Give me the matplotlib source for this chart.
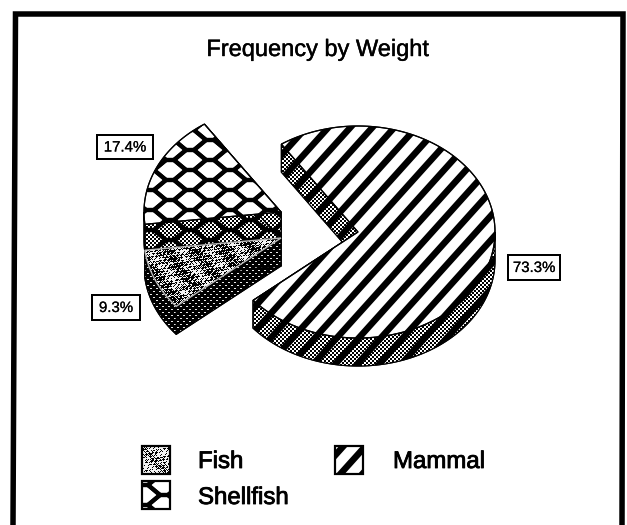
import numpy as np
import matplotlib
matplotlib.use("Agg")
import matplotlib.pyplot as plt
import matplotlib.patheffects as pe
from matplotlib.patches import Polygon, Rectangle
from matplotlib.collections import LineCollection

title = "Frequency by Weight"
categories = ["Fish", "Mammal", "Shellfish"]
shares = [9.3, 73.3, 17.4]

W, H = 627, 525
PX = 0.72
plt.rcParams['font.family'] = ['Liberation Sans', 'DejaVu Sans']
fig = plt.figure(figsize=(W/100, H/100), dpi=100)
ax = fig.add_axes([0, 0, 1, 1])

yy, xx = np.mgrid[0:H, 0:W]
checker = ((xx//2 + yy//2) % 2).astype(float)
dots = ((((xx + yy) % 6) < 2) & (((xx - yy) % 6) < 2)).astype(float)*0.9
m = (np.sin(xx*1.7 + 3*np.sin(yy*0.9)) + np.sin(yy*2.3 + xx*0.37)
     + np.sin((xx+yy)*0.77 + 2*np.sin(xx*0.53)) + 0.8*np.sin(xx*0.21 - yy*0.17))
fine = ((xx + yy) % 2) == 0
mottle = ((m > 0.9) | (fine & (m > -0.6))).astype(float)*0.95
mottle_key = ((m > 0.2) | (fine & (m > -1.5))).astype(float)*0.95

z = [1]
def tex(arr, patch):
    z[0] += 1
    im = ax.imshow(arr, extent=(0, W, H, 0), cmap='gray', vmin=0, vmax=1,
                   interpolation='nearest', aspect='auto', zorder=z[0])
    im.set_clip_path(patch)

def base(pts, fc='white', lw=1.2):
    z[0] += 1
    p = Polygon(pts, closed=True, fc=fc, ec='black', lw=lw*PX, zorder=z[0])
    ax.add_patch(p)
    return p

def outline(pts, lw=1.2, color='black'):
    z[0] += 1
    ax.add_patch(Polygon(pts, closed=True, fc='none', ec=color, lw=lw*PX, zorder=z[0]))

def stripes(patch, phase=17.0, lw=6.5, slope=48, spacing=22.0):
    z[0] += 1
    dy = np.tan(np.radians(slope))*800
    segs = [[(x0-800, 300+dy), (x0+800, 300-dy)] for x0 in np.arange(-900, 1500, spacing)+phase]
    lc = LineCollection(segs, colors='black', linewidths=lw*PX, zorder=z[0])
    ax.add_collection(lc)
    lc.set_clip_path(patch)

def honey(patch, ox=190, oy=160, lw=4.2):
    z[0] += 1
    segs = []
    for k in range(-12, 30):
        cx = ox + 20*k
        for j in range(-12, 30):
            cy = oy + 20*j + 10*(k % 2)
            v = [(cx-4, cy-10), (cx+4, cy-10), (cx+16, cy), (cx+4, cy+10), (cx-4, cy+10), (cx-16, cy), (cx-4, cy-10)]
            segs += [[v[i], v[i+1]] for i in range(6)]
    lc = LineCollection(segs, colors='black', linewidths=lw*PX, zorder=z[0], capstyle='round')
    ax.add_collection(lc)
    lc.set_clip_path(patch)

A, B, DEPTH = 137, 106, 28
START = 236.0

def rim(c, t0, t1):
    t = np.radians(np.linspace(t0, t1, max(int(abs(t1-t0)), 2)+1))
    return np.c_[c[0] + A*np.cos(t), c[1] + B*np.sin(t)]

def top_pts(c, t0, t1):
    return np.vstack([[c], rim(c, t0, t1)])

def side_list(c, t0, t1):
    polys = []
    for t in (t0, t1):
        r = rim(c, t, t)[0]
        polys.append(np.array([c, r, r+[0, DEPTH], np.array(c)+[0, DEPTH]]))
    for s in np.arange(-360, 1080, 360):
        a, b = max(t0, s), min(t1, s+180)
        if b > a:
            r = rim(c, a, b)
            polys.append(np.vstack([r, (r+[0, DEPTH])[::-1]]))
    return polys

order = {c: s for c, s in zip(categories, shares)}
t_m0 = START
t_m1 = t_m0 + order["Mammal"]*3.6
t_f1 = t_m1 + order["Fish"]*3.6
t_s1 = t_f1 + order["Shellfish"]*3.6

C_M, C_F, C_S = (358, 232), (281, 238), (281, 212)

# Shellfish
for poly in side_list(C_S, t_f1-360, t_s1-360):
    p = base(poly); tex(checker, p); honey(p); outline(poly)
p = base(top_pts(C_S, t_f1-360, t_s1-360)); honey(p); outline(top_pts(C_S, t_f1-360, t_s1-360))

# Fish
for poly in side_list(C_F, t_m1-360, t_f1-360):
    p = base(poly, fc='black'); tex(dots, p); outline(poly)
p = base(top_pts(C_F, t_m1-360, t_f1-360)); tex(mottle, p)
outline(top_pts(C_F, t_m1-360, t_f1-360), lw=1.4, color='#bbbbbb')

# Mammal
for poly in side_list(C_M, t_m0, t_m1):
    p = base(poly); tex(checker, p); stripes(p); outline(poly)
p = base(top_pts(C_M, t_m0, t_m1)); stripes(p); outline(top_pts(C_M, t_m0, t_m1))

# Data labels
stroke = [pe.withStroke(linewidth=0.15, foreground='black')]
boxes = {"Shellfish": (97, 135, 56, 24), "Fish": (92, 295, 48, 25), "Mammal": (508, 255, 52, 25)}
z[0] += 1
for c, v in zip(categories, shares):
    x, y, w, h = boxes[c]
    ax.add_patch(Rectangle((x, y), w, h, fc='white', ec='black', lw=2*PX, zorder=z[0]))
    ax.text(x+w/2, y+h/2+0.5, f"{v}%", ha='center', va='center', fontsize=15*PX, color='black',
            zorder=z[0]+1, path_effects=stroke)

# Legend
legend_pos = {"Fish": (142, 446, 198, 462), "Mammal": (335, 446, 393, 462), "Shellfish": (142, 481, 198, 498)}
for c in categories:
    x, y, tx, ty = legend_pos[c]
    sq = np.array([(x, y), (x+28, y), (x+28, y+28), (x, y+28)])
    p = base(sq, lw=2)
    if c == "Fish":
        tex(mottle_key, p)
    elif c == "Mammal":
        stripes(p, phase=(x + 6) % 22)
    else:
        honey(p, ox=x+2, oy=y+14)
    outline(sq, lw=2.2)
    ax.text(tx, ty, c, ha='left', va='center', fontsize=24*PX, color='black', zorder=z[0]+1,
            path_effects=[pe.withStroke(linewidth=0.6, foreground='black')])

# Title and frame
ax.text(318, 50, title, ha='center', va='center', fontsize=23.6*PX, color='black', zorder=50,
        path_effects=[pe.withStroke(linewidth=0.3, foreground='black')])
ax.plot([13, 15.5, 623, 622], [525, 14, 14, 525], color='black', lw=5.5*PX, solid_joinstyle='miter', zorder=50)

ax.set_xlim(0, W)
ax.set_ylim(H, 0)
ax.axis('off')
fig.savefig('out.png', dpi=100, facecolor='white')
